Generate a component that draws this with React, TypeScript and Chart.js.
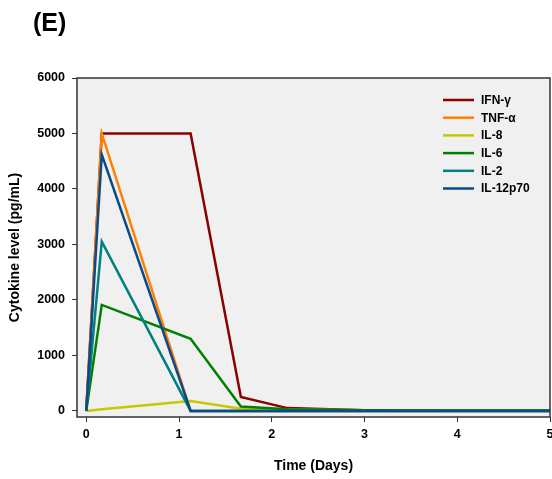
import React, { useEffect, useRef } from "react";
import { Chart, registerables } from "chart.js";

Chart.register(...registerables);

const times = [0, 0.167, 1.125, 1.667, 2.167, 3, 4, 5];
const seriesNames = ["IFN-γ", "TNF-α", "IL-8", "IL-6", "IL-2", "IL-12p70"];
const seriesColors = ["#8b0000", "#ff8000", "#c8c800", "#008000", "#008080", "#0a4a8a"];
const ifnG = [0, 5000, 5000, 250, 50, 10, 5, 5];
const tnfA = [0, 5000, 0, 0, 0, 0, 0, 0];
const il8 = [0, 30, 180, 40, 25, 10, 5, 5];
const il6 = [0, 1910, 1300, 80, 30, 10, 5, 5];
const il2 = [0, 3050, 0, 0, 0, 0, 0, 0];
const il12p70 = [0, 4620, 0, 0, 0, 0, 0, 0];
const seriesValues = [ifnG, tnfA, il8, il6, il2, il12p70];
const xTicks = [0, 1, 2, 3, 4, 5];
const yTicks = [0, 1000, 2000, 3000, 4000, 5000, 6000];

const FONT = "'Liberation Sans', Arial, sans-serif";

const framePlugin = {
  id: "frame",
  beforeDraw(chart: any) {
    const { ctx, chartArea: a } = chart;
    ctx.save();
    ctx.fillStyle = "#f0f0f0";
    ctx.fillRect(a.left, a.top, a.right - a.left, a.bottom - a.top);
    ctx.restore();
  },
  afterDraw(chart: any) {
    const { ctx, chartArea: a } = chart;
    ctx.save();
    ctx.strokeStyle = "#333";
    ctx.lineWidth = 1.5;
    ctx.strokeRect(a.left, a.top, a.right - a.left, a.bottom - a.top);
    // legend
    const x0 = 443;
    const y0 = 100;
    const dy = 17.7;
    ctx.font = `bold 12px ${FONT}`;
    ctx.textBaseline = "middle";
    chart.data.datasets.forEach((ds: any, i: number) => {
      const y = y0 + i * dy;
      ctx.strokeStyle = ds.borderColor;
      ctx.lineWidth = 2.5;
      ctx.beginPath();
      ctx.moveTo(x0, y);
      ctx.lineTo(x0 + 31, y);
      ctx.stroke();
      ctx.fillStyle = "#000";
      ctx.fillText(ds.label, x0 + 38, y + 0.5);
    });
    ctx.restore();
  },
};

export default function App() {
  const ref = useRef<HTMLCanvasElement>(null);
  useEffect(() => {
    if (!ref.current) return;
    const chart = new Chart(ref.current, {
      type: "line",
      data: {
        datasets: seriesNames.map((name, i) => ({
          label: name,
          data: times.map((t, j) => ({ x: t, y: seriesValues[i][j] })),
          borderColor: seriesColors[i],
          backgroundColor: seriesColors[i],
          borderWidth: 2.5,
          pointRadius: 0,
          tension: 0,
          order: seriesNames.length - i,
        })),
      },
      options: {
        animation: false,
        responsive: false,
        maintainAspectRatio: false,
        layout: { padding: { top: 78, right: 2, left: 0, bottom: 0 } },
        plugins: { legend: { display: false }, tooltip: { enabled: false } },
        scales: {
          x: {
            type: "linear",
            min: -0.1,
            max: 5,
            afterBuildTicks: (s: any) => {
              s.ticks = xTicks.map((v) => ({ value: v }));
            },
            afterFit: (s: any) => {
              s.height = 62;
              s.paddingRight = 0;
              s.paddingLeft = 0;
            },
            grid: { drawOnChartArea: false, drawTicks: true, tickLength: 5, tickColor: "#333", color: "#333" },
            border: { display: false },
            ticks: { color: "#000", font: { family: FONT, size: 12.5, weight: "bold" }, padding: 5, maxRotation: 0, callback: (v: any) => String(v) },
            title: { display: true, text: "Time (Days)", color: "#000", font: { family: FONT, size: 14, weight: "bold" }, padding: { top: 6 } },
          },
          y: {
            type: "linear",
            min: -110,
            max: 6000,
            afterBuildTicks: (s: any) => {
              s.ticks = yTicks.map((v) => ({ value: v }));
            },
            afterFit: (s: any) => {
              s.width = 77;
              s.paddingTop = 0;
              s.paddingBottom = 0;
            },
            grid: { drawOnChartArea: false, drawTicks: true, tickLength: 5, tickColor: "#333", color: "#333" },
            border: { display: false },
            ticks: { color: "#000", font: { family: FONT, size: 12.5, weight: "bold" }, padding: 7, callback: (v: any) => String(v) },
            title: { display: true, text: "Cytokine level (pg/mL)", color: "#000", font: { family: FONT, size: 14, weight: "bold" }, padding: { top: 7, bottom: 0 } },
          },
        },
      },
      plugins: [framePlugin],
    });
    return () => chart.destroy();
  }, []);
  return (
    <div style={{ position: "fixed", left: 0, top: 0, width: 552, height: 479, background: "#fff" }}>
      <div style={{ position: "absolute", left: 33, top: 8, fontFamily: FONT, fontWeight: "bold", fontSize: 25, color: "#000" }}>(E)</div>
      <canvas ref={ref} width={552} height={479} style={{ display: "block" }} />
    </div>
  );
}
